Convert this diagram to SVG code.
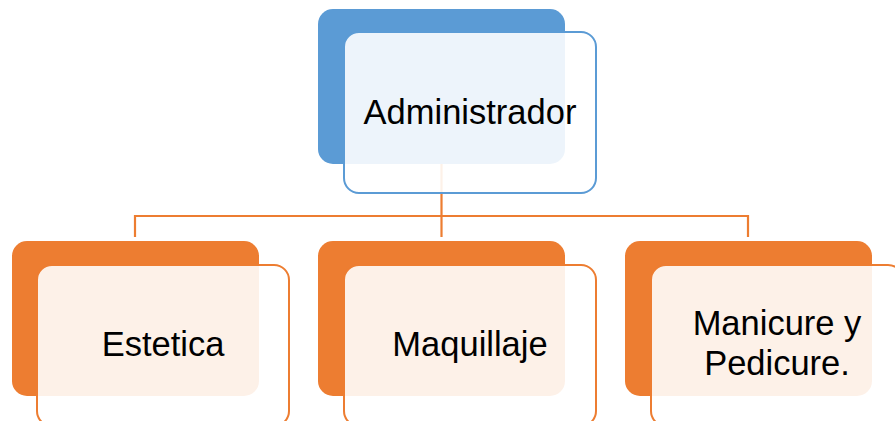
<svg xmlns="http://www.w3.org/2000/svg" width="895" height="421" viewBox="0 0 895 421">
<style>
.back-blue{fill:#5B9BD5}
.back-orange{fill:#ED7D31}
.front-blue{fill:#fff;fill-opacity:0.89;stroke:#5B9BD5;stroke-width:2}
.front-orange{fill:#fff;fill-opacity:0.89;stroke:#ED7D31;stroke-width:2}
.conn{fill:none;stroke:#ED7D31;stroke-width:2.2}
.lbl{font-family:"Liberation Sans",Arial,sans-serif;font-size:34.5px;fill:#000;text-anchor:middle}
</style>
<rect width="895" height="421" fill="#fff"/>
<g id="connectors">
<path class="conn" d="M441.5,164 V237"/>
<path class="conn" d="M135,237 V216 H748 V237"/>
</g>
<g id="node-administrador">
<rect class="back-blue" x="318" y="9" width="247" height="155" rx="15"/>
<rect class="front-blue" x="344" y="32" width="252" height="161" rx="15"/>
<text class="lbl" x="470" y="124">Administrador</text>
</g>
<g id="node-estetica">
<rect class="back-orange" x="12" y="241" width="247" height="155" rx="15"/>
<rect class="front-orange" x="37" y="265" width="252" height="161" rx="15"/>
<text class="lbl" x="163" y="356">Estetica</text>
</g>
<g id="node-maquillaje">
<rect class="back-orange" x="318" y="241" width="247" height="155" rx="15"/>
<rect class="front-orange" x="344" y="265" width="252" height="161" rx="15"/>
<text class="lbl" x="470" y="356">Maquillaje</text>
</g>
<g id="node-manicure">
<rect class="back-orange" x="625" y="241" width="247" height="155" rx="15"/>
<rect class="front-orange" x="651" y="265" width="252" height="161" rx="15"/>
<text class="lbl" x="777" y="335">Manicure y</text>
<text class="lbl" x="777" y="375">Pedicure.</text>
</g>
</svg>
